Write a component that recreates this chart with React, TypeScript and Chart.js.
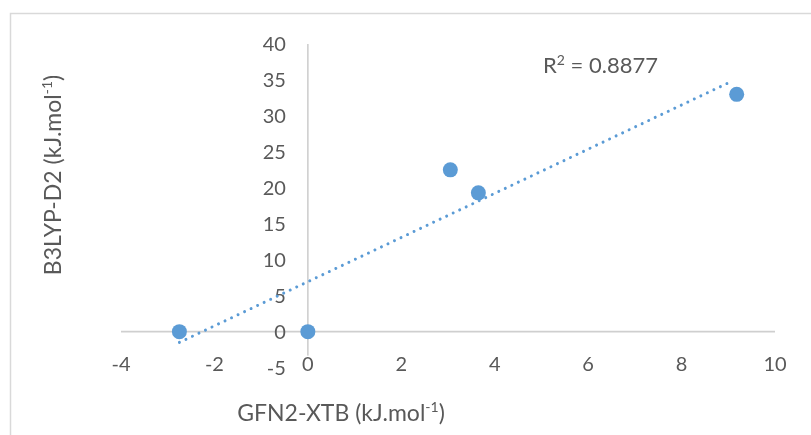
import React, { useEffect, useRef } from 'react';
import { Chart, registerables } from 'chart.js';
Chart.register(...registerables);

// data
const xValues = [-2.75, 0, 3.05, 3.65, 9.18];
const yValues = [0, 0, 22.5, 19.3, 33.0];
// trendline endpoints (linear trendline)
const trendX = [-2.75, 9.1];
const trendY = [-1.5, 34.9];
const xTicks = [-4, -2, 0, 2, 4, 6, 8, 10];
const yTicks = [-5, 0, 5, 10, 15, 20, 25, 30, 35, 40];
const xTitleParts: [string, boolean][] = [['GFN2-XTB (kJ.mol', false], ['-1', true], [')', false]];
const yTitleParts: [string, boolean][] = [['B3LYP-D2 (kJ.mol', false], ['-1', true], [')', false]];
const rParts: [string, boolean][] = [['R', false], ['2', true], [' = 0.8877', false]];

const FONT = 'Lato, "Open Sans", sans-serif';
const TEXT = '#595959';
const BLUE = '#5B9BD5';
const AXIS = '#cfcfcf';

function richWidth(ctx: CanvasRenderingContext2D, parts: [string, boolean][], size: number) {
  let w = 0;
  for (const [t, sup] of parts) {
    ctx.font = `${sup ? Math.round(size * 0.62) : size}px ${FONT}`;
    w += ctx.measureText(t).width;
  }
  return w;
}

function drawRich(ctx: CanvasRenderingContext2D, parts: [string, boolean][], x: number, y: number, size: number) {
  let cx = x;
  ctx.textAlign = 'left';
  ctx.textBaseline = 'alphabetic';
  for (const [t, sup] of parts) {
    const s = sup ? Math.round(size * 0.62) : size;
    ctx.font = `${s}px ${FONT}`;
    ctx.fillText(t, cx, sup ? y - size * 0.38 : y);
    cx += ctx.measureText(t).width;
  }
}

const decor = {
  id: 'decor',
  beforeDatasetsDraw(chart: any) {
    const { ctx } = chart;
    const xs = chart.scales.x;
    const ys = chart.scales.y;
    ctx.save();
    // chart frame
    ctx.strokeStyle = '#d9d9d9';
    ctx.lineWidth = 1.5;
    ctx.beginPath();
    ctx.moveTo(10.5, 440);
    ctx.lineTo(10.5, 13.5);
    ctx.lineTo(820, 13.5);
    ctx.stroke();
    // axis lines
    ctx.strokeStyle = AXIS;
    ctx.lineWidth = 1.6;
    const x0 = xs.getPixelForValue(0);
    const y0 = ys.getPixelForValue(0);
    ctx.beginPath();
    ctx.moveTo(x0, ys.getPixelForValue(40));
    ctx.lineTo(x0, ys.getPixelForValue(-5));
    ctx.moveTo(xs.getPixelForValue(-4), y0);
    ctx.lineTo(xs.getPixelForValue(10), y0);
    ctx.stroke();
    // x tick labels at bottom
    ctx.font = `20px ${FONT}`;
    ctx.textBaseline = 'middle';
    ctx.textAlign = 'center';
    const ly = ys.getPixelForValue(-5) - 3;
    for (const v of xTicks) {
      const px = xs.getPixelForValue(v);
      const w = ctx.measureText(String(v)).width;
      ctx.fillStyle = '#ffffff';
      ctx.fillRect(px - w / 2 - 1, ly - 9, w + 2, 18);
      ctx.fillStyle = TEXT;
      ctx.fillText(String(v), px, ly);
    }
    // y tick labels beside the vertical axis
    ctx.textAlign = 'right';
    for (const v of yTicks) {
      ctx.fillText(String(v), x0 - 22, ys.getPixelForValue(v) + 1);
    }
    // titles
    ctx.fillStyle = TEXT;
    const xw = richWidth(ctx, xTitleParts, 23);
    drawRich(ctx, xTitleParts, 341 - xw / 2, 421, 23);
    const yw = richWidth(ctx, yTitleParts, 23);
    ctx.translate(61, 175);
    ctx.rotate(-Math.PI / 2);
    drawRich(ctx, yTitleParts, -yw / 2, 0, 23);
    ctx.restore();
  },
  afterDatasetsDraw(chart: any) {
    const { ctx } = chart;
    ctx.save();
    ctx.fillStyle = TEXT;
    drawRich(ctx, rParts, 543, 73, 22);
    ctx.restore();
  },
};

export default function App() {
  const ref = useRef<HTMLCanvasElement>(null);
  useEffect(() => {
    if (!ref.current) return;
    const chart = new Chart(ref.current, {
      type: 'scatter',
      data: {
        datasets: [
          {
            label: 'Trend',
            type: 'line',
            data: trendX.map((x, i) => ({ x, y: trendY[i] })),
            borderColor: BLUE,
            borderWidth: 3,
            borderDash: [0.01, 7.2],
            borderCapStyle: 'round',
            pointRadius: 0,
            fill: false,
            order: 0,
          } as any,
          {
            label: 'Data',
            data: xValues.map((x, i) => ({ x, y: yValues[i] })),
            backgroundColor: BLUE,
            borderColor: BLUE,
            pointRadius: 7.5,
            borderWidth: 0,
            order: 1,
          },
        ],
      },
      options: {
        animation: false,
        responsive: false,
        events: [],
        layout: { padding: { left: 121, right: 36, top: 44, bottom: 67.4 } },
        plugins: { legend: { display: false }, tooltip: { enabled: false } },
        scales: {
          x: { type: 'linear', min: -4, max: 10, display: false },
          y: { type: 'linear', min: -5, max: 40, display: false },
        },
      },
      plugins: [decor],
    });
    return () => chart.destroy();
  }, []);
  return (
    <div style={{ position: 'fixed', left: 0, top: 0, width: 811, height: 435, background: '#fff' }}>
      <canvas ref={ref} width={811} height={435} />
    </div>
  );
}
